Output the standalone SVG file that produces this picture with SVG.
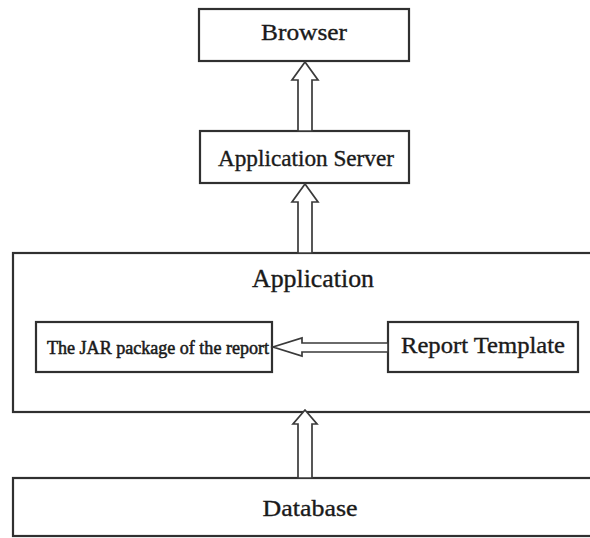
<svg xmlns="http://www.w3.org/2000/svg" width="590" height="538" viewBox="0 0 590 538">
  <style>
    .box { fill: #ffffff; stroke: #303030; stroke-width: 2.2; }
    .arrow { fill: #ffffff; stroke: #3a3a3a; stroke-width: 1.7; stroke-linejoin: miter; }
    .lbl { font-family: "Liberation Serif", "Times New Roman", serif; fill: #1a1a1a; stroke: #1a1a1a; stroke-width: 0.35; text-anchor: middle; }
    .small { stroke-width: 0.55; }
  </style>
  <rect width="590" height="538" fill="#ffffff"/>

  <g id="browser">
    <rect class="box" x="199" y="9" width="210" height="52"/>
    <text class="lbl" x="304" y="40" font-size="23" textLength="86" lengthAdjust="spacingAndGlyphs">Browser</text>
  </g>

  <g id="application-server">
    <rect class="box" x="200" y="131" width="209" height="52"/>
    <text class="lbl" x="306" y="166" font-size="23" textLength="176" lengthAdjust="spacingAndGlyphs">Application Server</text>
  </g>

  <g id="application">
    <rect class="box" x="13" y="253" width="590" height="159"/>
    <text class="lbl" x="313" y="287" font-size="25" textLength="122" lengthAdjust="spacingAndGlyphs">Application</text>
  </g>

  <g id="jar-package">
    <rect class="box" x="36" y="322" width="236" height="50"/>
    <text class="lbl small" x="158" y="354" font-size="19" textLength="222" lengthAdjust="spacingAndGlyphs">The JAR package of the report</text>
  </g>

  <g id="report-template">
    <rect class="box" x="388" y="322" width="190" height="50"/>
    <text class="lbl" x="483" y="353" font-size="23" textLength="164" lengthAdjust="spacingAndGlyphs">Report Template</text>
  </g>

  <g id="database">
    <rect class="box" x="13" y="478" width="590" height="58"/>
    <text class="lbl" x="310" y="516" font-size="24" textLength="95" lengthAdjust="spacingAndGlyphs">Database</text>
  </g>

  <g id="connectors">
    <!-- hollow block arrows -->
    <polygon class="arrow" points="298,131 298,80 292,80 305,62 318,80 312,80 312,131"/>
    <polygon class="arrow" points="298,253 298,202 292,202 305,184 318,202 312,202 312,253"/>
    <polygon class="arrow" points="298,478 298,424 293,424 305,410 317,424 312,424 312,478"/>
    <polygon class="arrow" points="388,343 302,343 302,338 273,347 302,356 302,352 388,352"/>
  </g>
</svg>
